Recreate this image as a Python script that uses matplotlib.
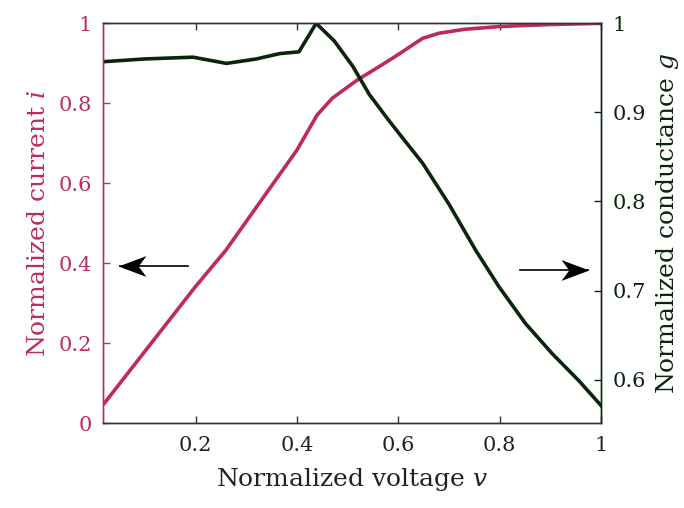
import numpy as np
import matplotlib.pyplot as plt
from matplotlib.path import Path
from matplotlib.transforms import offset_copy

# ── data ────────────────────────────────────────────────────
v_cur = [0.02, 0.2, 0.26, 0.4, 0.44, 0.47, 0.52, 0.56, 0.6, 0.648, 0.68, 0.73, 0.8, 0.9, 1.0]
cur = [0.05, 0.342, 0.433, 0.683, 0.771, 0.813, 0.859, 0.89, 0.922, 0.9625, 0.975, 0.985, 0.992, 0.997, 1.0]

v_cond = [0.02, 0.1, 0.195, 0.261, 0.32, 0.366, 0.404, 0.438, 0.474, 0.51, 0.543,
          0.58, 0.602, 0.648, 0.7, 0.753, 0.799, 0.851, 0.904, 0.956, 1.0]
cond = [0.957, 0.960, 0.962, 0.955, 0.960, 0.966, 0.968, 1.0, 0.980, 0.952, 0.92,
        0.892, 0.876, 0.843, 0.797, 0.745, 0.704, 0.663, 0.629, 0.599, 0.571]

x_ticks = [0.2, 0.4, 0.6, 0.8, 1.0]
x_ticklabels = ["0.2", "0.4", "0.6", "0.8", "1"]
i_ticks = [0, 0.2, 0.4, 0.6, 0.8, 1.0]
i_ticklabels = ["0", "0.2", "0.4", "0.6", "0.8", "1"]
g_ticks = [0.6, 0.7, 0.8, 0.9, 1.0]
g_ticklabels = ["0.6", "0.7", "0.8", "0.9", "1"]

PINK = "#BC2A60"
GREEN = "#0B250C"
GRAY = "#333333"

plt.rcParams["font.family"] = "DejaVu Serif"
plt.rcParams["mathtext.fontset"] = "custom"
plt.rcParams["mathtext.it"] = "DejaVu Serif:italic"
plt.rcParams["mathtext.rm"] = "DejaVu Serif"

fig = plt.figure(figsize=(6.84, 5.08), dpi=100)
ax = fig.add_axes([0.151, 0.1667, 0.7277, 0.7874])
ax2 = ax.twinx()

ax.plot(v_cur, cur, color=PINK, lw=2.6, solid_joinstyle="round")
ax2.plot(v_cond, cond, color=GREEN, lw=2.6, solid_joinstyle="round")

ax.set_xlim(0.018, 1.0)
ax.set_ylim(0, 1)
ax2.set_ylim(0.551, 1.0)

ax.set_xticks(x_ticks)
ax.set_xticklabels(x_ticklabels)
ax.set_yticks(i_ticks)
ax.set_yticklabels(i_ticklabels)
ax2.set_yticks(g_ticks)
ax2.set_yticklabels(g_ticklabels)

fs = 15
ax.tick_params(axis="x", direction="in", length=5, width=1, color=GRAY,
               labelcolor="#222222", labelsize=fs, pad=9, top=True)
ax.tick_params(axis="y", direction="in", length=5, width=1, color=PINK,
               labelcolor=PINK, labelsize=fs, pad=8, right=False)
ax2.tick_params(axis="y", direction="in", length=5, width=1, color=GREEN,
                labelcolor=GREEN, labelsize=fs, pad=8)

for a in (ax, ax2):
    a.spines["top"].set_color(GRAY)
    a.spines["bottom"].set_color(GRAY)
    a.spines["left"].set_color(PINK)
    a.spines["right"].set_color(GREEN)
    for s in a.spines.values():
        s.set_linewidth(1.0)

ax.set_xlabel("Normalized voltage $v$", fontsize=18, color="#222222", labelpad=8)
ax.set_ylabel("Normalized current $i$", fontsize=18, color=PINK, labelpad=6)
ax2.set_ylabel("Normalized conductance $g$", fontsize=18, color=GREEN, labelpad=6)

# stealth-style arrow heads
head = Path([(1, 0), (-1, 0.75), (-0.45, 0), (-1, -0.75), (1, 0)],
            [Path.MOVETO, Path.LINETO, Path.LINETO, Path.LINETO, Path.CLOSEPOLY])
head_l = Path(-head.vertices, head.codes)

ax.plot([0.05, 0.185], [0.393, 0.393], color="black", lw=1.2)
ax.plot([0.05], [0.393], marker=head_l, ms=20, color="black", mew=0,
        transform=offset_copy(ax.transData, fig=fig, x=9, y=0, units="points"))

ax2.plot([0.841, 0.974], [0.7234, 0.7234], color="black", lw=1.2)
ax2.plot([0.974], [0.7234], marker=head, ms=20, color="black", mew=0,
         transform=offset_copy(ax2.transData, fig=fig, x=-9, y=0, units="points"))

fig.savefig("out.png", dpi=100)
